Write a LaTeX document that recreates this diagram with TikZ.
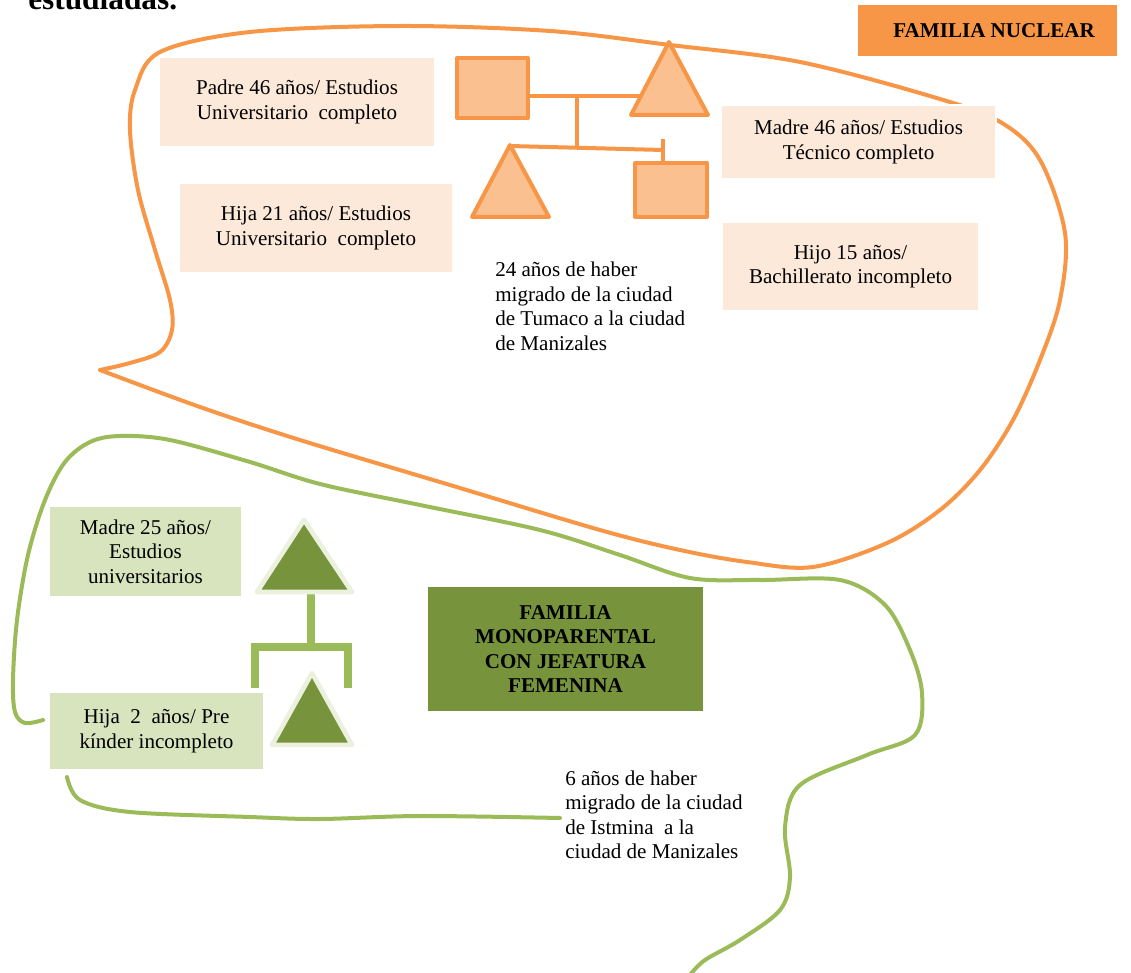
\documentclass[tikz,border=0pt]{standalone}
\usepackage{fontspec}
\setmainfont{Liberation Serif}
\definecolor{orangeL}{RGB}{247,150,70}
\definecolor{peach}{RGB}{253,233,217}
\definecolor{orangeF}{RGB}{250,192,143}
\definecolor{greenL}{RGB}{155,187,89}
\definecolor{greenD}{RGB}{119,147,60}
\definecolor{greenB}{RGB}{215,228,189}
\definecolor{greenP}{RGB}{235,241,222}
\begin{document}
\begin{tikzpicture}[x=0.75pt,y=-0.75pt,
  txt/.style={font=\fontsize{15.8}{18.3}\selectfont, align=center, inner sep=0pt},
  obox/.style={txt, fill=peach, draw=white, line width=2pt},
  gbox/.style={txt, fill=greenB, draw=white, line width=2pt},
  ocurve/.style={draw=orangeL, line width=3pt, line cap=round},
  gcurve/.style={draw=greenL, line width=3pt, line cap=round},
  oshape/.style={draw=orangeL, fill=orangeF, line width=3pt, line join=round},
  oline/.style={draw=orangeL, line width=3pt},
  gtri/.style={draw=greenP, fill=greenD, line width=3.5pt, line join=round},
  gline/.style={draw=greenL, line width=6pt},
  migtext/.style={font=\fontsize{15.8}{18.3}\selectfont, align=left, inner sep=0pt, anchor=north west}
]
\useasboundingbox (0,0) rectangle (1131,973);

% heading (cut off)
\node[anchor=base west, inner sep=0pt, font=\fontsize{23.5}{28}\selectfont\bfseries] (head) at (28,10) {estudiadas.};

% orange outline
\draw[ocurve] plot[smooth, tension=0.55] coordinates {
 (100,370) (200,407) (300,440) (450,485) (600,530) (680,550) (747,562) (813,567)
 (887,543) (940,510) (980,470) (1013,420) (1040,360) (1060,300) (1065,233)
 (1040,160) (1002,123) (940,99) (800,62) (670,45) (550,31) (400,26) (250,32)
 (160,52) (135,90) (130,130) (138,190) (155,250) (170,300) (172,330) (160,352)
 (130,363) (100,370)};

% green outline
\draw[gcurve] plot[smooth, tension=0.55] coordinates {
 (43,720) (25,723) (15,712) (13,680) (17,620) (28,555) (45,500) (65,462) (90,442)
 (120,436) (170,440) (250,462) (320,484) (420,505) (540,530) (620,555) (690,578)
 (760,580) (840,580) (885,605) (910,650) (922,693) (915,735) (867,755) (800,785)
 (785,827) (790,877) (780,910) (740,940) (705,960) (690,975)};
\draw[gcurve] plot[smooth, tension=0.55] coordinates {
 (67,777) (80,800) (130,812) (250,817) (320,819) (420,816) (560,818)};

% orange boxes
\node[obox, minimum width=207pt, minimum height=67.5pt] (padre) at (297,102) {Padre 46 años/ Estudios\\Universitario\ \ completo};
\node[obox, minimum width=205.5pt, minimum height=67.5pt] (hija21) at (316,228) {Hija 21 años/ Estudios\\Universitario\ \ completo};
\node[obox, minimum width=206.25pt, minimum height=55.5pt] (madre46) at (858.5,142) {Madre 46 años/ Estudios\\Técnico completo};
\node[obox, minimum width=192.75pt, minimum height=66.75pt] (hijo15) at (850.5,266.5) {Hijo 15 años/\\Bachillerato incompleto};
\node[txt, fill=orangeL, minimum width=194.25pt, minimum height=38.25pt, font=\fontsize{15.8}{18.3}\selectfont\bfseries] (nuclear) at (987.5,30.5) {\hspace*{10pt}FAMILIA NUCLEAR};

% orange genogram
\draw[oline] (528,96) -- (640,96);
\draw[oline] (577,96) -- (577,148);
\draw[oline] (510,146) -- (663,150);
\draw[oline] (663,139) -- (663,163);
\draw[oshape] (457,58) rectangle (528,118);
\draw[oshape] (669,42) -- (708,115) -- (631,115) -- cycle;
\draw[oshape] (510,145) -- (549,217) -- (472,217) -- cycle;
\draw[oshape] (635,163) rectangle (707,217);

\node[migtext] (mig1) at (495,262) {24 años de haber\\migrado de la ciudad\\de Tumaco a la ciudad\\de Manizales};

% green boxes
\node[gbox, minimum width=144.75pt, minimum height=68.25pt] (madre25) at (145.5,551.5) {Madre 25 años/\\Estudios\\universitarios};
\node[gbox, minimum width=161.25pt, minimum height=58.5pt] (hija2) at (156.5,731) {Hija\ \ 2\ \ años/ Pre\\kínder incompleto};
\node[txt, fill=greenD, minimum width=206.25pt, minimum height=93pt, font=\fontsize{15.8}{18.3}\selectfont\bfseries] (mono) at (565.5,649) {FAMILIA\\MONOPARENTAL\\CON JEFATURA\\FEMENINA};

% green genogram
\draw[gline] (311,594) -- (311,647);
\draw[gline] (255,688) -- (255,647) -- (348,647) -- (348,688);
\draw[gtri] (304,520) -- (352,592) -- (257,592) -- cycle;
\draw[gtri] (312,673) -- (352,745) -- (272,745) -- cycle;

\node[migtext] (mig2) at (565,770.5) {6 años de haber\\migrado de la ciudad\\de Istmina\ \ a la\\ciudad de Manizales};
\end{tikzpicture}
\end{document}
